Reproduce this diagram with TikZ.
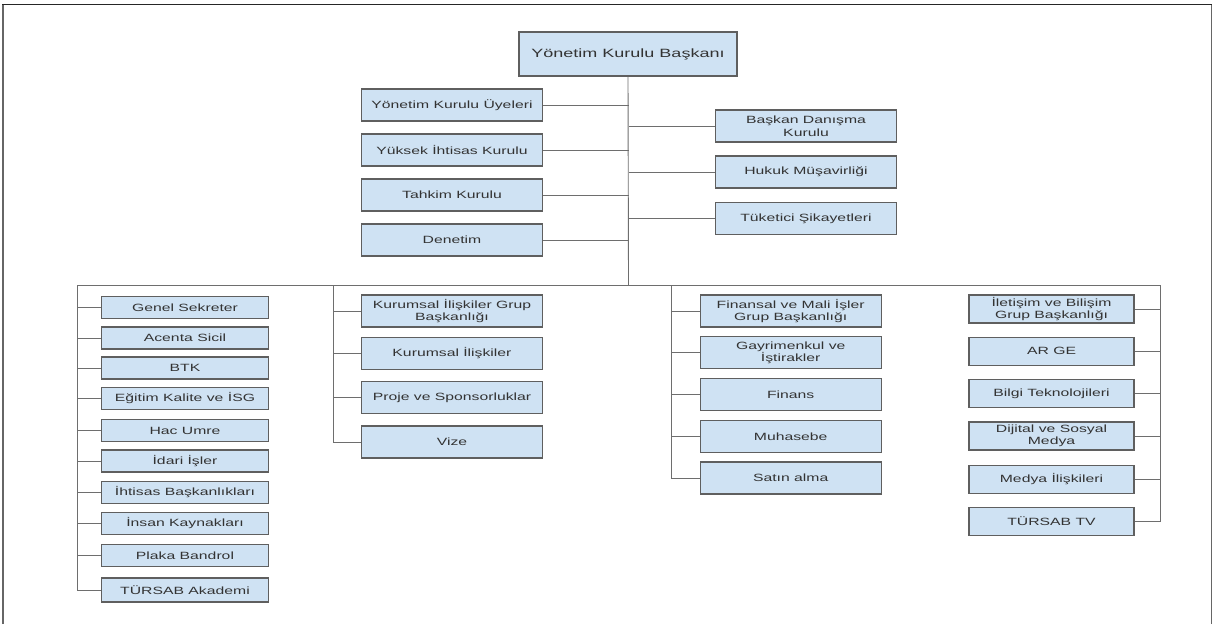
\documentclass[tikz,border=0pt]{standalone}
\usepackage{fontspec}
\setmainfont{Liberation Sans}[FakeStretch=1.5]
\usetikzlibrary{positioning,calc}
\definecolor{boxfill}{HTML}{CFE2F3}
\definecolor{boxline}{HTML}{5F5F5F}
\definecolor{wire}{HTML}{6E6E6E}
\definecolor{inktext}{HTML}{333333}

\begin{document}
\begin{tikzpicture}[x=1pt, y=-1pt,
    unit/.style={draw=boxline, line width=1.1pt, fill=boxfill, text=inktext, align=center, inner sep=1pt, font=\fontsize{10.5}{12.5}\selectfont},
    upperbox/.style={unit, minimum width=180.5pt, minimum height=32pt},
    deptbox/.style={unit, minimum width=166.5pt, minimum height=22pt},
    groupbox/.style={unit, minimum width=181pt, minimum height=32pt},
    mediabox/.style={unit, minimum width=165pt, minimum height=28pt},
    link/.style={draw=wire, line width=0.9pt}]
    \useasboundingbox (0,0) rectangle (1214,624);

    % Frame
    \draw[line width=1.8pt, color=black!60] (3,624) -- (3,4.5);
    \draw[line width=1.8pt, color=black!60] (1211.5,624) -- (1211.5,4.5);
    \draw[line width=1.8pt, color=black!85] (2.1,4.5) -- (1212.4,4.5);

    % Chair
    \node[unit, minimum width=218pt, minimum height=44pt, font=\fontsize{12}{14}\selectfont] (chair) at (628,54) {Yönetim Kurulu Başkanı};

    % Boards on the left
    \node[upperbox] (members) at (452,105) {Yönetim Kurulu Üyeleri};
    \node[upperbox] (highcouncil) at (452,150) {Yüksek İhtisas Kurulu};
    \node[upperbox] (arbitration) at (452,195) {Tahkim Kurulu};
    \node[upperbox] (audit) at (452,240) {Denetim};

    % Advisors on the right
    \node[upperbox] (advisory) at (806,126) {Başkan Danışma\\Kurulu};
    \node[upperbox] (legal) at (806,172) {Hukuk Müşavirliği};
    \node[upperbox] (consumer) at (806,218.5) {Tüketici Şikayetleri};

    % Trunk and bus
    \coordinate (bus) at (628.5,285.5);
    \coordinate (c1) at (77,285.5);
    \coordinate (c2) at (333.5,285.5);
    \coordinate (c3) at (671,285.5);
    \coordinate (c4) at (1160.5,285.5);
    \draw[link] (chair.south) -- (bus);
    \draw[link] (c1) -- (c4);
    \foreach \n in {members,highcouncil,arbitration,audit}
        \draw[link] (\n.east) -- (\n.east -| bus);
    \foreach \n in {advisory,legal,consumer}
        \draw[link] (\n.west) -- (\n.west -| bus);

    % Column 1
    \node[deptbox] (gensec) at (185,307.5) {Genel Sekreter};
    \node[deptbox] (agency) at (185,338) {Acenta Sicil};
    \node[deptbox] (btk) at (185,368) {BTK};
    \node[deptbox] (training) at (185,398.5) {Eğitim Kalite ve İSG};
    \node[deptbox] (hajj) at (185,430.5) {Hac Umre};
    \node[deptbox] (admin) at (185,461) {İdari İşler};
    \node[deptbox] (special) at (185,492.5) {İhtisas Başkanlıkları};
    \node[deptbox] (hr) at (185,523.5) {İnsan Kaynakları};
    \node[deptbox] (plate) at (185,555.5) {Plaka Bandrol};
    \node[deptbox, minimum height=24pt] (academy) at (185,590) {TÜRSAB Akademi};
    \draw[link] (c1) |- (academy.west);
    \foreach \n in {gensec,agency,btk,training,hajj,admin,special,hr,plate}
        \draw[link] (\n.west) -- (\n.west -| c1);

    % Column 2
    \node[groupbox] (corpgroup) at (452,311) {Kurumsal İlişkiler Grup\\Başkanlığı};
    \node[groupbox] (corprel) at (452,353.3) {Kurumsal İlişkiler};
    \node[groupbox] (projects) at (452,397.8) {Proje ve Sponsorluklar};
    \node[groupbox] (visa) at (452,442) {Vize};
    \draw[link] (c2) |- (visa.west);
    \foreach \n in {corpgroup,corprel,projects}
        \draw[link] (\n.west) -- (\n.west -| c2);

    % Column 3
    \node[groupbox] (fingroup) at (790.7,311) {Finansal ve Mali İşler\\Grup Başkanlığı};
    \node[groupbox] (property) at (790.7,352.8) {Gayrimenkul ve\\İştirakler};
    \node[groupbox] (finance) at (790.7,394.5) {Finans};
    \node[groupbox] (accounting) at (790.7,436.5) {Muhasebe};
    \node[groupbox] (purchase) at (790.7,478) {Satın alma};
    \draw[link] (c3) |- (purchase.west);
    \foreach \n in {fingroup,property,finance,accounting}
        \draw[link] (\n.west) -- (\n.west -| c3);

    % Column 4
    \node[mediabox] (commgroup) at (1051.5,309) {İletişim ve Bilişim\\Grup Başkanlığı};
    \node[mediabox] (rnd) at (1051.5,351.3) {AR GE};
    \node[mediabox] (it) at (1051.5,393.7) {Bilgi Teknolojileri};
    \node[mediabox] (digital) at (1051.5,436) {Dijital ve Sosyal\\Medya};
    \node[mediabox] (media) at (1051.5,479.5) {Medya İlişkileri};
    \node[mediabox] (tv) at (1051.5,521.5) {TÜRSAB TV};
    \draw[link] (c4) |- (tv.east);
    \foreach \n in {commgroup,rnd,it,digital,media}
        \draw[link] (\n.east) -- (\n.east -| c4);
\end{tikzpicture}
\end{document}
